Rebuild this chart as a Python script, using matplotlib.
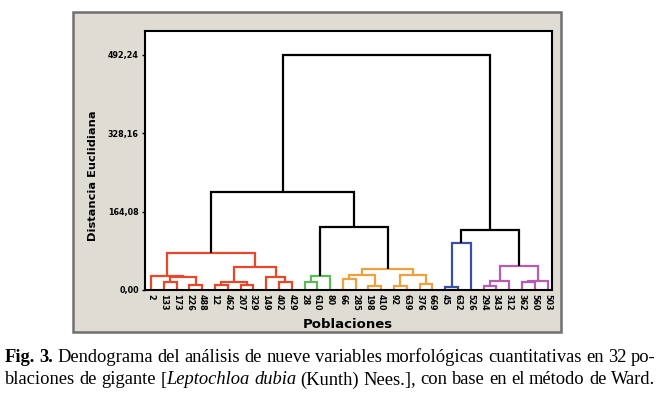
import matplotlib
matplotlib.use('Agg')
import matplotlib.pyplot as plt
from matplotlib.patches import Rectangle

# leaf order as shown on the x axis
leaves = ['2', '133', '173', '226', '488', '12', '462', '207', '329', '149',
          '402', '429', '28', '610', '80', '66', '285', '198', '410', '92',
          '639', '376', '669', '45', '632', '526', '294', '343', '312', '362',
          '560', '503']

# Ward merges (left child, right child, height); 'mK' = K-th merge
merges = [
    ('133', '173', 17.5), ('226', '488', 10.5), ('m0', 'm1', 27.5), ('2', 'm2', 29.5),
    ('12', '462', 10.5), ('207', '329', 10.5), ('m4', 'm5', 17.5), ('402', '429', 16),
    ('149', 'm7', 28), ('m6', 'm8', 49), ('m3', 'm9', 77.5),
    ('28', '610', 17.5), ('m11', '80', 29),
    ('66', '285', 22), ('198', '410', 8.5), ('m13', 'm14', 31), ('92', '639', 8.5),
    ('376', '669', 12.5), ('m16', 'm17', 31), ('m15', 'm18', 43),
    ('m12', 'm19', 132.5), ('m10', 'm20', 204.5),
    ('45', '632', 7), ('m22', '526', 98),
    ('294', '343', 9), ('m24', '312', 19), ('362', '560', 16), ('m26', '503', 19.5),
    ('m25', 'm27', 51), ('m23', 'm28', 125.5), ('m21', 'm29', 492.24),
]

group_tops = {'m10': '#e8472b', 'm12': '#5cb85a', 'm19': '#f0a040',
              'm23': '#3a4ea6', 'm28': '#b65cb4'}

yticks = [0, 164.08, 328.16, 492.24]
ytick_labels = ['0,00', '164,08', '328,16', '492,24']

caption = [
    "*Fig.* *3.* Dendograma del análisis de nueve variables morfológicas cuantitativas en 32 po-",
    "blaciones de gigante [_Leptochloa_ _dubia_ (Kunth) Nees.], con base en el método de Ward.",
]

# positions of every node
xpos = {lab: 10 * i + 5 for i, lab in enumerate(leaves)}
hpos = {lab: 0.0 for lab in leaves}
children = {}
for k, (a, b, h) in enumerate(merges):
    name = 'm%d' % k
    xpos[name] = (xpos[a] + xpos[b]) / 2
    hpos[name] = h
    children[name] = (a, b)

colors = {}


def paint(node, col):
    col = group_tops.get(node, col)
    colors[node] = col
    for c in children.get(node, ()):
        paint(c, col)


paint('m%d' % (len(merges) - 1), 'black')

fig = plt.figure(figsize=(6.61, 3.93), dpi=100)
W, H = 661, 393

# grey panel behind the chart
fig.patches.append(Rectangle((73 / W, 1 - 332 / H), (561 - 73) / W, (332 - 12) / H,
                             transform=fig.transFigure, facecolor='#dfdcd3',
                             edgecolor='#707070', linewidth=1.8, zorder=-5))

ax = fig.add_axes([145 / W, 1 - 290 / H, (552 - 145) / W, (290 - 31) / H])
ax.set_zorder(2)
ax.set_facecolor('white')

for name, (a, b) in children.items():
    h = hpos[name]
    ax.plot([xpos[a], xpos[a], xpos[b], xpos[b]], [hpos[a], h, h, hpos[b]],
            color=colors[name], lw=1.6, solid_joinstyle='miter', solid_capstyle='butt')

ax.set_xlim(0.3, 318.5)
ax.set_ylim(0, 542)
ax.set_xticks([xpos[l] for l in leaves])
ax.set_xticklabels(leaves, rotation=270, fontsize=5.8, fontweight='bold')
ax.tick_params(axis='x', length=0, pad=3)
ax.set_yticks(yticks)
ax.set_yticklabels(ytick_labels, fontsize=5.8, fontweight='bold')
ax.tick_params(axis='y', length=2.5, width=1, pad=2)
for s in ax.spines.values():
    s.set_linewidth(1.5)

ax.set_ylabel('Distancia Euclidiana', fontsize=8.2, fontweight='bold')
ax.set_xlabel('Poblaciones', fontsize=9.5, fontweight='bold')
ax.yaxis.set_label_coords((98 - 145) / (552 - 145), 0.44)
ax.xaxis.set_label_coords((348 - 145) / (552 - 145), -(318 - 290) / (290 - 31))


def justify(line, y, x0, x1, size):
    # split words, '*' toggles bold and '_' toggles italic
    renderer = fig.canvas.get_renderer()
    words = []
    for w in line.split(' '):
        parts, style, buf = [], 'normal', ''
        for ch in w:
            if ch in '*_':
                if buf:
                    parts.append((buf, style))
                buf = ''
                tog = 'bold' if ch == '*' else 'italic'
                style = 'normal' if style == tog else tog
            else:
                buf += ch
        if buf:
            parts.append((buf, style))
        words.append(parts)
    objs, widths = [], []
    for parts in words:
        ts, wsum = [], 0
        for txt, st in parts:
            t = fig.text(0, y / H, txt, fontsize=size, family='Liberation Serif',
                         fontweight='bold' if st == 'bold' else 'normal',
                         fontstyle='italic' if st == 'italic' else 'normal',
                         va='center', ha='left', transform=fig.transFigure)
            bb = t.get_window_extent(renderer)
            ts.append((t, bb.width))
            wsum += bb.width
        objs.append(ts)
        widths.append(wsum)
    gap = (x1 - x0 - sum(widths)) / (len(words) - 1)
    x = x0
    for ts, wd in zip(objs, widths):
        xx = x
        for t, w in ts:
            t.set_x(xx / W)
            xx += w
        x += wd + gap


justify(caption[0], H - 357, 5, 655, 13.3)
justify(caption[1], H - 380, 5, 655, 13.3)

fig.savefig('out.png', dpi=100, facecolor='white')
